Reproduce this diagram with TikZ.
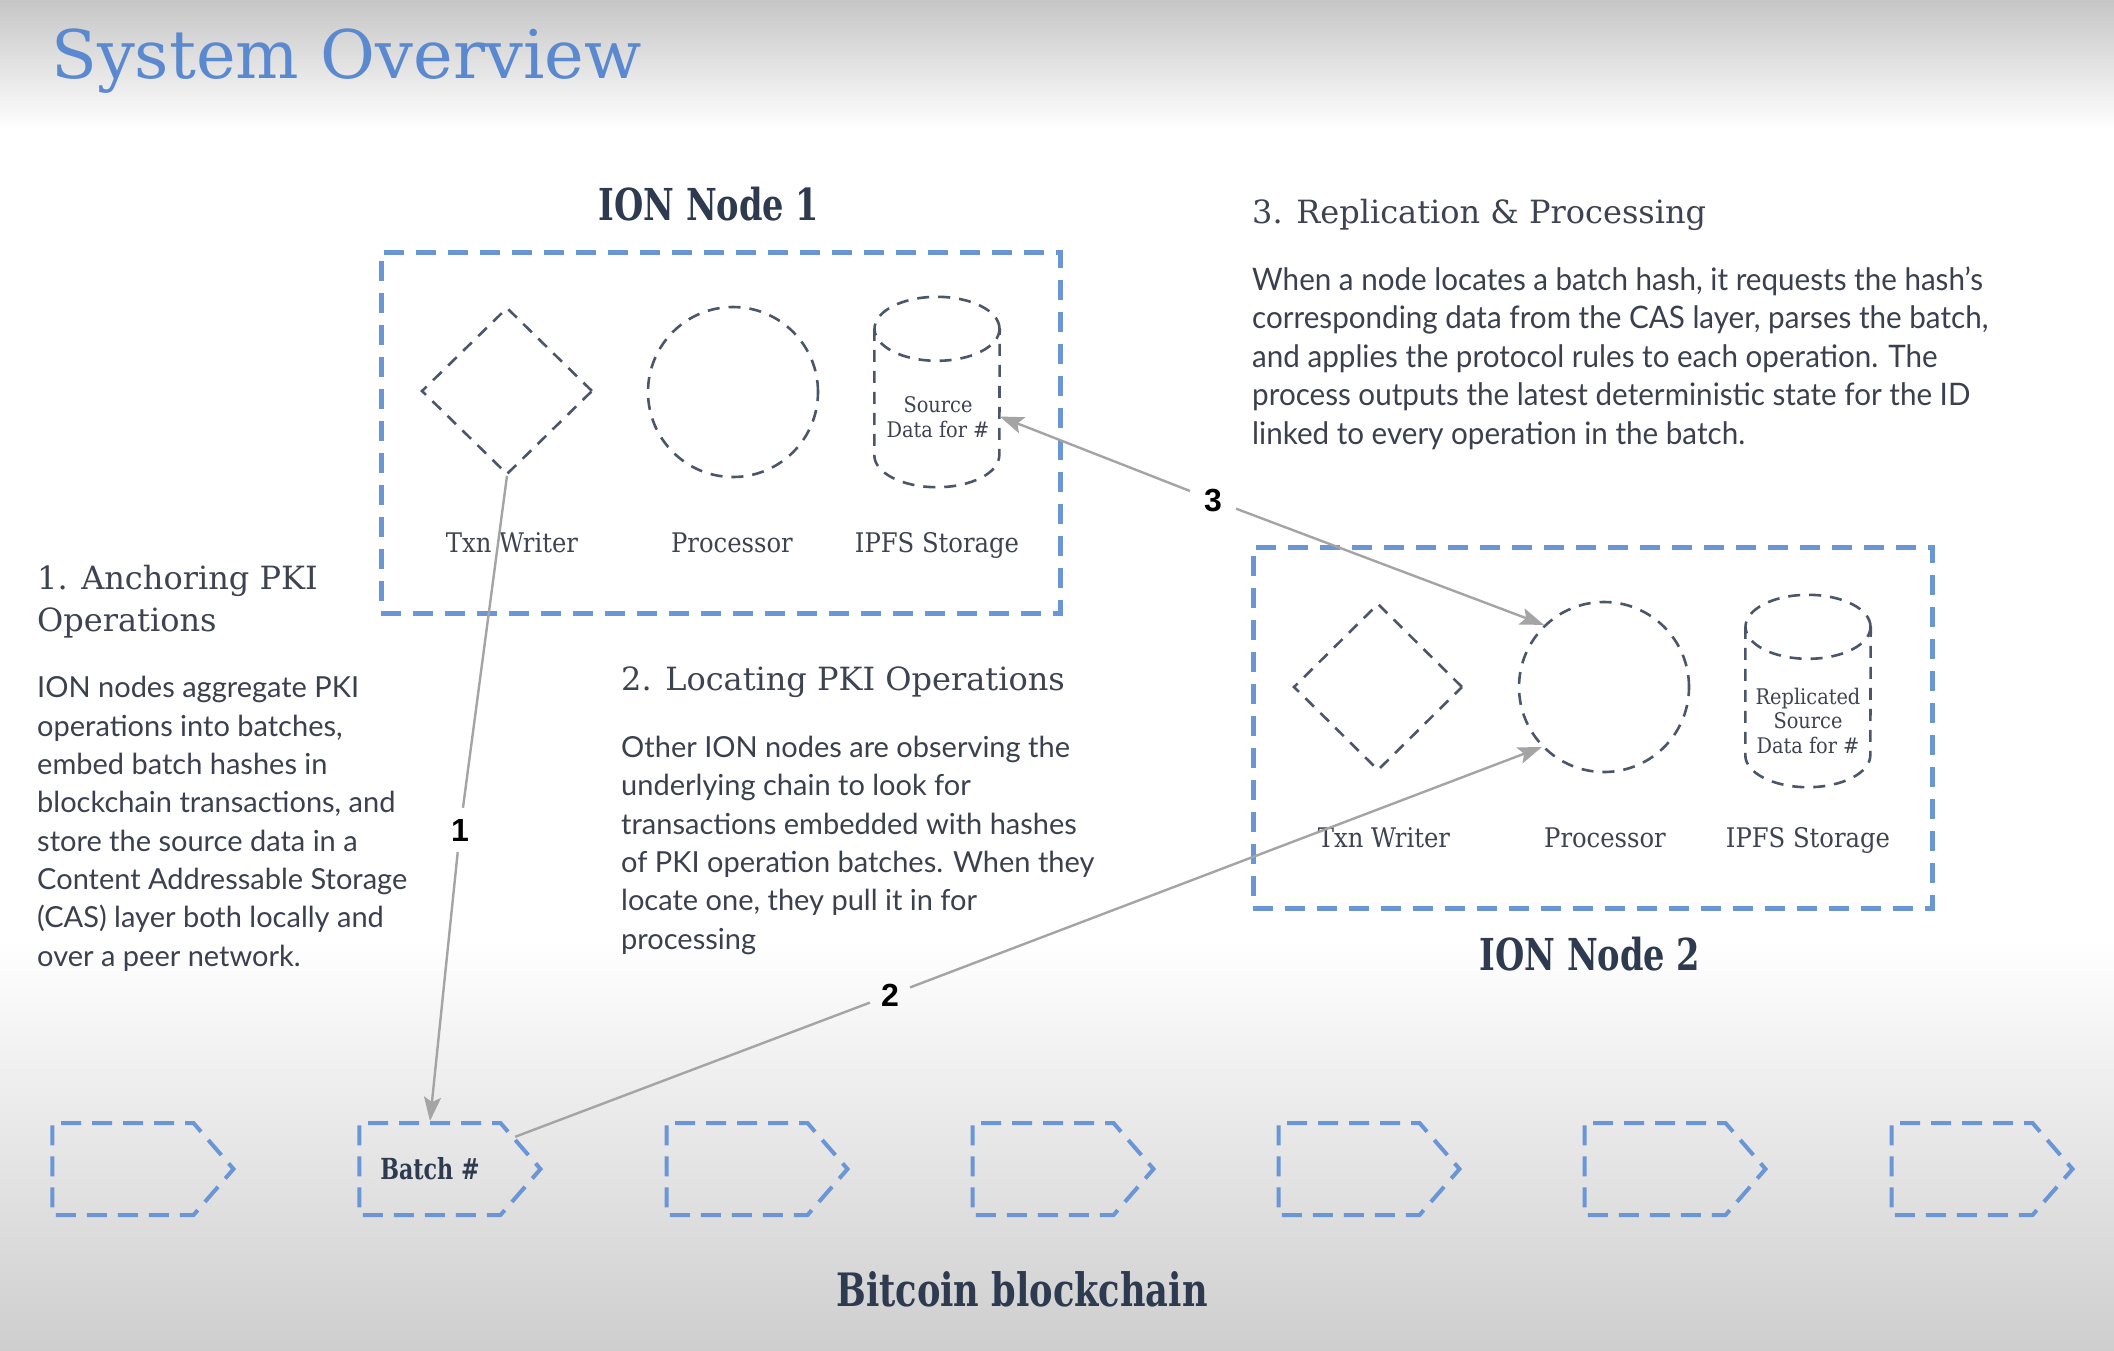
\documentclass[tikz,border=0pt]{standalone}
\usepackage{fontspec}
\usetikzlibrary{shapes.geometric,shapes.symbols,arrows.meta}
\newfontfamily\slabfont{DejaVu Serif Condensed}
\newfontfamily\slabwide{DejaVu Serif}
\newfontfamily\slabnarrow[FakeStretch=0.85]{DejaVu Serif Condensed}
\newfontfamily\bodyfont{Lato}
\newfontfamily\bodycfont[FakeStretch=0.955]{Lato}
\newfontfamily\numfont{Liberation Sans}
\definecolor{boxblue}{HTML}{6A96D6}
\definecolor{shpcol}{HTML}{4B566B}
\definecolor{titleblue}{HTML}{5B89CF}
\definecolor{headcol}{HTML}{3D4350}
\definecolor{bodycol}{HTML}{3A404E}
\definecolor{darkcol}{HTML}{2D3A50}
\definecolor{arrgray}{HTML}{A4A4A4}
\definecolor{bgtop}{HTML}{C6C6C6}
\definecolor{bgbot}{HTML}{CECECE}
\begin{document}
\begin{tikzpicture}[x=1pt,y=-1pt,
  bluebox/.style={draw=boxblue, line width=4.5pt, dash pattern=on 20pt off 12pt, inner sep=0pt},
  shp/.style={draw=shpcol, line width=2.6pt, dash pattern=on 12pt off 9pt},
  blk/.style={draw=boxblue, line width=4pt, dash pattern=on 20pt off 11pt, signal, signal to=east, signal pointer angle=98, minimum width=181pt, minimum height=92pt, inner sep=0pt},
  complab/.style={font=\slabfont\fontsize{27}{30}\selectfont, text=headcol, inner sep=0pt, anchor=base},
  cyltext/.style={font=\slabfont\fontsize{21.5}{24.5}\selectfont, text=headcol, inner sep=0pt, align=center, anchor=base},
  headtxt/.style={font=\slabwide\fontsize{32}{42}\selectfont, text=headcol, inner sep=0pt, align=left, anchor=base west},
  bodytxt/.style={font=\bodyfont\fontsize{29}{38.3}\selectfont, text=bodycol, inner sep=0pt, align=left, anchor=base west},
  bodyctxt/.style={font=\bodycfont\fontsize{31}{38.5}\selectfont, text=bodycol, inner sep=0pt, align=left, anchor=base west},
  bigtitle/.style={font=\slabnarrow\bfseries\fontsize{44}{50}\selectfont, text=darkcol, inner sep=0pt, anchor=base},
  numlab/.style={font=\numfont\bfseries\fontsize{32}{36}\selectfont, text=black, inner sep=11pt},
  conn/.style={draw=arrgray, line width=2.4pt, -{Stealth[length=24pt,width=17pt,inset=5pt]}}
]
% background
\useasboundingbox (0,0) rectangle (2114,1350);
\fill[white] (0,0) rectangle (2114,1350);
\shade[top color=bgtop, bottom color=white] (0,0) rectangle (2114,130);
\shade[top color=white, bottom color=bgbot] (0,940) rectangle (2114,1350);

% title
\node[font=\slabwide\fontsize{67}{80}\selectfont, text=titleblue, inner sep=0pt, anchor=base west] (title) at (51,78) {System Overview};

% ION Node 1
\node[bigtitle] (n1title) at (709,220) {ION Node 1};
\node[bluebox, minimum width=679pt, minimum height=361pt, anchor=north west] (box1) at (379,250) {};
\node[shp, diamond, minimum width=171pt, minimum height=167pt, inner sep=0pt] (tw1) at (507,391) {};
\node[shp, circle, minimum size=170pt, inner sep=0pt] (proc1) at (733,392) {};
\node[minimum width=125pt, minimum height=190pt, inner sep=0pt] (ipfs1) at (937,392) {};
\draw[shp] ([yshift=-32pt]ipfs1.north) ellipse [x radius=62.5pt, y radius=32pt];
\draw[shp] ([yshift=-32pt]ipfs1.north west) -- ([yshift=32pt]ipfs1.south west) arc[start angle=180, end angle=360, x radius=62.5pt, y radius=32pt] -- ([yshift=-32pt]ipfs1.north east);
\node[cyltext] (ipfs1t) at (938,437) {Source\\Data for \#};
\node[complab] (twl1) at (512,552) {Txn Writer};
\node[complab] (procl1) at (732,552) {Processor};
\node[complab] (ipfsl1) at (937,552) {IPFS Storage};

% ION Node 2
\node[bluebox, minimum width=679pt, minimum height=361pt, anchor=north west] (box2) at (1251,545) {};
\node[shp, diamond, minimum width=169pt, minimum height=167pt, inner sep=0pt] (tw2) at (1378,687) {};
\node[shp, circle, minimum size=170pt, inner sep=0pt] (proc2) at (1604,687) {};
\node[minimum width=125pt, minimum height=192pt, inner sep=0pt] (ipfs2) at (1808,691) {};
\draw[shp] ([yshift=-32pt]ipfs2.north) ellipse [x radius=62.5pt, y radius=32pt];
\draw[shp] ([yshift=-32pt]ipfs2.north west) -- ([yshift=32pt]ipfs2.south west) arc[start angle=180, end angle=360, x radius=62.5pt, y radius=32pt] -- ([yshift=-32pt]ipfs2.north east);
\node[cyltext] (ipfs2t) at (1808,753) {Replicated\\Source\\Data for \#};
\node[complab] (twl2) at (1384,847) {Txn Writer};
\node[complab] (procl2) at (1605,847) {Processor};
\node[complab] (ipfsl2) at (1808,847) {IPFS Storage};
\node[bigtitle] (n2title) at (1590,970) {ION Node 2};

% text blocks
\node[headtxt] (h1) at (37,631) {1. Anchoring PKI\\Operations};
\node[bodytxt] (b1txt) at (37,966) {ION nodes aggregate PKI\\operations into batches,\\embed batch hashes in\\blockchain transactions, and\\store the source data in a\\Content Addressable Storage\\(CAS) layer both locally and\\over a peer network.};
\node[headtxt] (h2) at (621,690) {2. Locating PKI Operations};
\node[bodytxt] (b2txt) at (621,949) {Other ION nodes are observing the\\underlying chain to look for\\transactions embedded with hashes\\of PKI operation batches. When they\\locate one, they pull it in for\\processing};
\node[headtxt] (h3) at (1252,223) {3. Replication \& Processing};
\node[bodyctxt] (b3txt) at (1252,444) {When a node locates a batch hash, it requests the hash’s\\corresponding data from the CAS layer, parses the batch,\\and applies the protocol rules to each operation. The\\process outputs the latest deterministic state for the ID\\linked to every operation in the batch.};

% blockchain
\foreach \i/\x in {1/123,3/737,4/1043,5/1349,6/1655,7/1962}{
  \node[blk] (blk\i) at (\x,1169) {};
}
\node[blk, font=\slabnarrow\bfseries\fontsize{29}{32}\selectfont, text=darkcol] (blk2) at (430,1169) {Batch \#};
\node[bigtitle, font=\slabnarrow\bfseries\fontsize{46}{50}\selectfont] (chain) at (1022,1306) {Bitcoin blockchain};

% connectors
\node[numlab] (l1) at (460,830) {1};
\node[numlab] (l2) at (890,995) {2};
\node[numlab, inner sep=14pt] (l3) at (1213,500) {3};
\draw[conn] (tw1.south) -- (l1) -- (blk2.north);
\draw[conn] (blk2) -- (l2) -- (proc2.224);
\draw[conn] (l3) -- (ipfs1);
\draw[conn] (l3) -- (proc2.134);
\end{tikzpicture}
\end{document}
